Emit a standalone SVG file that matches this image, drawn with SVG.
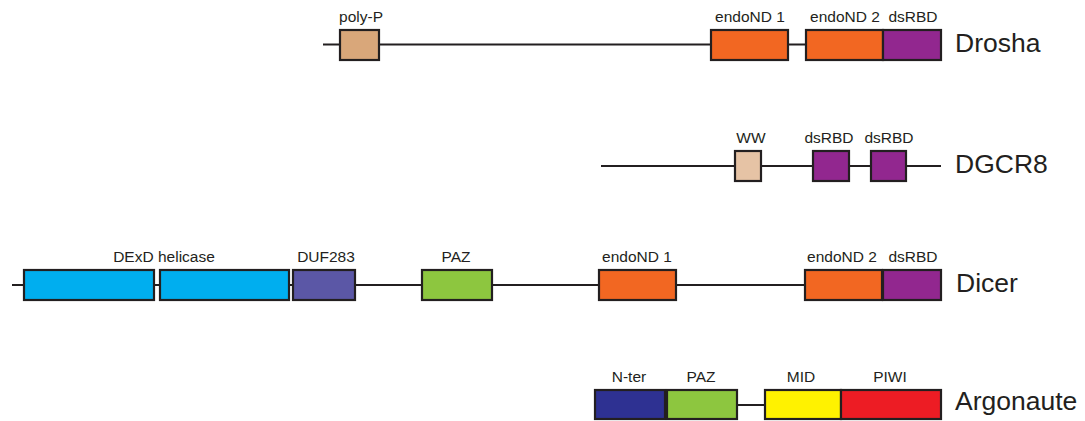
<svg xmlns="http://www.w3.org/2000/svg" width="1085" height="421" viewBox="0 0 1085 421">
<style>
.ln{stroke:#231F20;stroke-width:2;fill:none}
.bx{stroke:#231F20;stroke-width:2.2}
.lb{font-family:"Liberation Sans",Arial,sans-serif;font-size:15.5px;fill:#231F20;text-anchor:middle}
.nm{font-family:"Liberation Sans",Arial,sans-serif;font-size:26.5px;fill:#231F20}
</style>
<rect width="1085" height="421" fill="#fff"/>
<g id="connectors">
<line class="ln" x1="323" y1="44.5" x2="941" y2="44.5"/>
<line class="ln" x1="601" y1="166" x2="941" y2="166"/>
<line class="ln" x1="12" y1="285" x2="941" y2="285"/>
<line class="ln" x1="665" y1="405" x2="765" y2="405"/>
</g>
<g id="drosha">
<rect id="drosha-polyP" class="bx" x="340" y="30" width="39" height="30" fill="#D9A77A"/>
<rect id="drosha-endoND1" class="bx" x="711" y="30" width="77" height="30" fill="#F26722"/>
<rect id="drosha-endoND2" class="bx" x="806" y="30" width="77" height="30" fill="#F26722"/>
<rect id="drosha-dsRBD" class="bx" x="883" y="30" width="58" height="30" fill="#92278F"/>
<text class="lb" x="361" y="22">poly-P</text>
<text class="lb" x="750" y="22">endoND 1</text>
<text class="lb" x="845" y="22">endoND 2</text>
<text class="lb" x="913" y="22">dsRBD</text>
<text class="nm" x="955" y="52">Drosha</text>
</g>
<g id="dgcr8">
<rect id="dgcr8-WW" class="bx" x="735" y="151" width="26" height="30" fill="#E6C3A5"/>
<rect id="dgcr8-dsRBD1" class="bx" x="813" y="151" width="36" height="30" fill="#92278F"/>
<rect id="dgcr8-dsRBD2" class="bx" x="871" y="151" width="35" height="30" fill="#92278F"/>
<text class="lb" x="751" y="143">WW</text>
<text class="lb" x="829" y="143">dsRBD</text>
<text class="lb" x="889" y="143">dsRBD</text>
<text class="nm" x="955" y="173">DGCR8</text>
</g>
<g id="dicer">
<rect id="dicer-helicase1" class="bx" x="24" y="270" width="130" height="30" fill="#00AEEF"/>
<rect id="dicer-helicase2" class="bx" x="160" y="270" width="129" height="30" fill="#00AEEF"/>
<rect id="dicer-DUF283" class="bx" x="293" y="270" width="62" height="30" fill="#5B57A6"/>
<rect id="dicer-PAZ" class="bx" x="422" y="270" width="70" height="30" fill="#8DC63F"/>
<rect id="dicer-endoND1" class="bx" x="599" y="270" width="77" height="30" fill="#F26722"/>
<rect id="dicer-endoND2" class="bx" x="805" y="270" width="77" height="30" fill="#F26722"/>
<rect id="dicer-dsRBD" class="bx" x="883" y="270" width="58" height="30" fill="#92278F"/>
<text class="lb" x="164" y="262">DExD helicase</text>
<text class="lb" x="326" y="262">DUF283</text>
<text class="lb" x="456" y="262">PAZ</text>
<text class="lb" x="637" y="262">endoND 1</text>
<text class="lb" x="842" y="262">endoND 2</text>
<text class="lb" x="913" y="262">dsRBD</text>
<text class="nm" x="956" y="292">Dicer</text>
</g>
<g id="argonaute">
<rect id="ago-Nter" class="bx" x="595" y="390" width="70" height="29" fill="#2E3192"/>
<rect id="ago-PAZ" class="bx" x="667" y="390" width="70" height="29" fill="#8DC63F"/>
<rect id="ago-MID" class="bx" x="765" y="390" width="76" height="29" fill="#FFF200"/>
<rect id="ago-PIWI" class="bx" x="841" y="390" width="100" height="29" fill="#ED1C24"/>
<text class="lb" x="629" y="382">N-ter</text>
<text class="lb" x="701" y="382">PAZ</text>
<text class="lb" x="801" y="382">MID</text>
<text class="lb" x="890" y="382">PIWI</text>
<text class="nm" x="955" y="410">Argonaute</text>
</g>
</svg>
